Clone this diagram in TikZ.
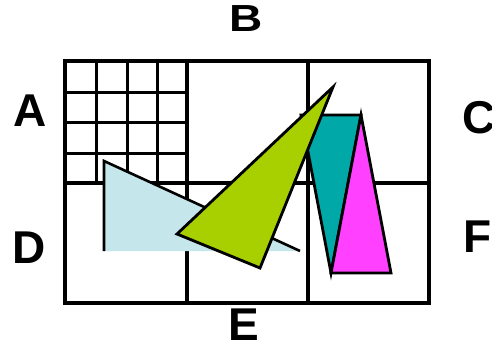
\documentclass[tikz,border=0pt]{standalone}
\usepackage{fontspec}
\setmainfont{Liberation Sans}
\begin{document}
\begin{tikzpicture}[x=1pt,y=-1pt,
  thick line/.style={line width=4.6pt},
  thin line/.style={line width=3pt},
  shape edge/.style={draw=black,line width=2.8pt,line join=miter},
  lbl/.style={anchor=base west,inner sep=0pt,font=\fontsize{46}{46}\selectfont\bfseries}]
\useasboundingbox (0,0) rectangle (492,345);
\fill[white] (0,0) rectangle (492,345);
% fine grid in top-left cell
\foreach \x in {96.5,127,157} \draw[thin line] (\x,61) -- (\x,183);
\foreach \y in {92,122.5,153} \draw[thin line] (65,\y) -- (187,\y);
% main grid
\draw[thick line] (65,61) rectangle (429,303);
\draw[thick line] (187,61) -- (187,303);
\draw[thick line] (308,61) -- (308,303);
\draw[thick line] (65,183) -- (429,183);
% light blue triangle
\coordinate (b1) at (104,161);
\coordinate (b2) at (104,251);
\coordinate (b3) at (300,251);
\fill[fill={rgb,255:red,197;green,230;blue,234}] (b1) -- (b2) -- (b3) -- cycle;
\draw[line width=2.6pt] (b2) -- (b1) -- (b3);
% teal triangle
\coordinate (t1) at (301,115);
\coordinate (t2) at (361,115);
\coordinate (t3) at (331,273);
\filldraw[shape edge,fill={rgb,255:red,0;green,168;blue,168}] (t1) -- (t2) -- (t3) -- cycle;
% magenta triangle
\coordinate (m1) at (361,115);
\coordinate (m2) at (331,273);
\coordinate (m3) at (391,273);
\filldraw[shape edge,fill={rgb,255:red,255;green,64;blue,255}] (m1) -- (m2) -- (m3) -- cycle;
% green triangle
\coordinate (g1) at (333,87);
\coordinate (g2) at (177,234);
\coordinate (g3) at (260,268);
\filldraw[shape edge,fill={rgb,255:red,168;green,208;blue,0}] (g1) -- (g2) -- (g3) -- cycle;
% labels
\node[lbl] (A) at (13,126) {A};
\node[lbl,yscale=0.82] (B) at (229,32) {B};
\node[lbl] (C) at (462,133) {C};
\node[lbl] (D) at (12,263) {D};
\node[lbl] (E) at (228,340) {E};
\node[lbl] (F) at (463,252) {F};
\end{tikzpicture}
\end{document}
